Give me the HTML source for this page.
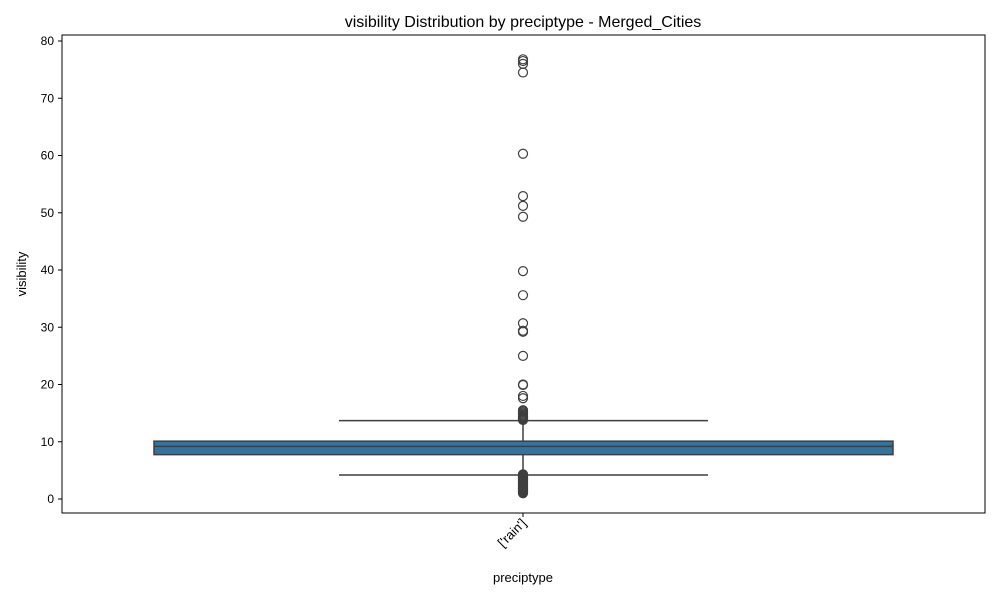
<!DOCTYPE html>
<html><head><meta charset="utf-8"><style>
body{margin:0;background:#fff;font-family:"Liberation Sans","DejaVu Sans",sans-serif;}
</style></head><body>
<svg width="1000" height="600" xmlns="http://www.w3.org/2000/svg" id="svg">
<text x="523" y="27" text-anchor="middle" font-size="16">visibility Distribution by preciptype - Merged_Cities</text>
<rect x="62" y="35" width="923" height="478" fill="none" stroke="#000" stroke-width="1"/>
<g id="yt"></g>
<g id="marks"></g>
<text x="523" y="582" text-anchor="middle" font-size="13">preciptype</text>
<text transform="translate(26,274) rotate(-90)" text-anchor="middle" font-size="13">visibility</text>
<text transform="translate(527,524) rotate(-45)" text-anchor="end" font-size="13">['rain']</text>
<line x1="523" y1="513" x2="523" y2="517" stroke="#000"/>
</svg>
<script>
const categories=["['rain']"];
const yTicks=[0,10,20,30,40,50,60,70,80];
const q1=[7.75], median=[9.2], q3=[10.1], whiskerLow=[4.2], whiskerHigh=[13.7];
const outliers=[76.8,76.5,76.0,74.5,60.3,52.9,51.2,49.3,39.8,35.6,30.7,29.2,29.4,25.0,19.9,20.0,18.0,17.6,15.5,15.3,15.1,14.9,14.7,14.5,14.4,14.3,14.2,14.1,14.0,13.9,13.8,4.3,4.2,4.1,4.0,3.9,3.8,3.7,3.6,3.5,3.4,3.3,3.2,3.1,3.0,2.9,2.8,2.7,2.6,2.5,2.4,2.3,2.2,2.1,2.0,1.9,1.8,1.7,1.6,1.5,1.4,1.3,1.2,1.1,1.0];
const NS="http://www.w3.org/2000/svg";
const y=v=>499-v*5.725;
const x=i=>523;
const svg=document.getElementById('svg'),yt=document.getElementById('yt'),mk=document.getElementById('marks');
function el(t,a,p){const e=document.createElementNS(NS,t);for(const k in a)e.setAttribute(k,a[k]);p.appendChild(e);return e;}
yTicks.forEach(v=>{
 const l=el('line',{x1:58,x2:62,y1:y(v),y2:y(v),stroke:'#000'},yt);
 
 
 const t=el('text',{x:54,y:y(v)+4,'text-anchor':'end','font-size':12},yt);
 t.textContent=v;
 
 
});
categories.forEach((c,i)=>{
 const cx=x(i);
 const w1=el('line',{x1:cx,x2:cx,y1:y(q3[i]),y2:y(whiskerHigh[i]),stroke:'#3f3f3f','stroke-width':1.5},mk);
 
 
 const w2=el('line',{x1:cx,x2:cx,y1:y(q1[i]),y2:y(whiskerLow[i]),stroke:'#3f3f3f','stroke-width':1.5},mk);
 
 
 const c1=el('line',{x1:cx-184,x2:cx+185,y1:y(whiskerHigh[i]),y2:y(whiskerHigh[i]),stroke:'#3f3f3f','stroke-width':1.5},mk);
 
 
 const c2=el('line',{x1:cx-184,x2:cx+185,y1:y(whiskerLow[i]),y2:y(whiskerLow[i]),stroke:'#3f3f3f','stroke-width':1.5},mk);
 
 
 const b=el('rect',{x:cx-369,width:739,y:y(q3[i]),height:y(q1[i])-y(q3[i]),fill:'#3274a1',stroke:'#3f3f3f','stroke-width':1.5},mk);
 
 
 const m=el('line',{x1:cx-369,x2:cx+370,y1:y(median[i]),y2:y(median[i]),stroke:'#3f3f3f','stroke-width':1.5},mk);
 
 
 outliers.forEach(v=>{
  const o=el('circle',{cx:cx,cy:y(v),r:4.5,fill:'none',stroke:'#3f3f3f','stroke-width':1.2},mk);
  
  
 });
});
</script>
</body></html>
